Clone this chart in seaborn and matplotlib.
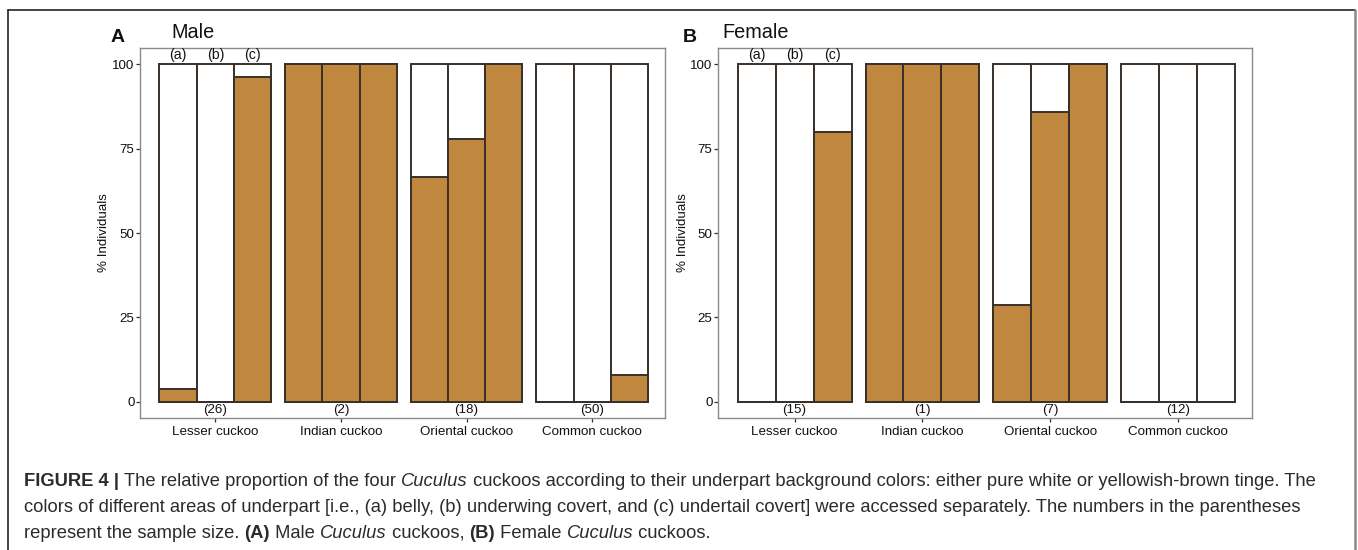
import matplotlib
matplotlib.use("Agg")
import matplotlib.pyplot as plt
import seaborn as sns
import pandas as pd
from matplotlib.lines import Line2D

sns.set_theme(style="white")
plt.rcParams['font.family'] = ['Liberation Sans', 'DejaVu Sans']

species = ["Lesser cuckoo", "Indian cuckoo", "Oriental cuckoo", "Common cuckoo"]
areas = ["(a)", "(b)", "(c)"]
male_n = ["(26)", "(2)", "(18)", "(50)"]
female_n = ["(15)", "(1)", "(7)", "(12)"]
# % individuals with yellowish-brown tinge, per species x area (a, b, c)
male_brown = [[3.85, 0, 96.15], [100, 100, 100], [66.7, 77.8, 100], [0, 0, 8.0]]
female_brown = [[0, 0, 80.0], [100, 100, 100], [28.6, 85.7, 100], [0, 0, 0]]
yticks = [0, 25, 50, 75, 100]

BROWN = "#BF883E"
EDGE = "#3a302a"
SPINE = "#8a8a8a"
FS = 9.6

W, H = 1358, 550
fig = plt.figure(figsize=(W / 100, H / 100), dpi=100)


def make_df(vals):
    rows = []
    for s, row in zip(species, vals):
        for a, v in zip(areas, row):
            rows.append({"species": s, "area": a, "brown": v, "total": 100.0})
    return pd.DataFrame(rows)


def panel(rect, vals, counts, title, letter, lx, tx, ylx):
    ax = fig.add_axes(rect)
    df = make_df(vals)
    sns.barplot(data=df, x="species", y="total", hue="area", order=species,
                hue_order=areas, palette=["white"] * 3, width=0.89, gap=0,
                saturation=1, edgecolor=EDGE, linewidth=1.4, legend=False, ax=ax)
    sns.barplot(data=df, x="species", y="brown", hue="area", order=species,
                hue_order=areas, palette=[BROWN] * 3, width=0.89, gap=0,
                saturation=1, edgecolor=EDGE, linewidth=1.4, legend=False, ax=ax)
    ax.set_xlim(-0.6, 3.58)
    ax.set_ylim(-4.8, 104.8)
    ax.set_yticks(yticks)
    ax.set_yticklabels([str(t) for t in yticks], fontsize=FS, color="#111111")
    ax.set_xticks(range(len(species)))
    ax.set_xticklabels(species, fontsize=FS, color="#111111")
    ax.set_xlabel("")
    ax.set_ylabel("% Individuals", fontsize=FS, color="#111111")
    ax.yaxis.set_label_coords(ylx, 0.5)
    ax.tick_params(axis="both", which="both", length=3, width=0.9, color="#333333",
                   direction="out", bottom=True, left=True, pad=1)
    ax.tick_params(axis="x", pad=3)
    for sp in ax.spines.values():
        sp.set_color(SPINE)
        sp.set_linewidth(1.0)
    bw = 0.89 / 3
    for i, a in enumerate(areas):
        ax.text(-0.89 / 2 + bw * (i + 0.5), 102.6, a, ha="center", va="center",
                fontsize=FS + 0.6, color="#111111")
    for i, c in enumerate(counts):
        ax.text(i, -2.3, c, ha="center", va="center", fontsize=FS, color="#111111")
    fig.text(lx / W, 1 - 38 / H, letter, fontsize=14, fontweight="bold",
             ha="left", va="center", color="#111111")
    fig.text(tx / W, 1 - 33 / H, title, fontsize=14.3, ha="left", va="center",
             color="#111111")
    return ax


panel([140 / W, 1 - 418 / H, 525 / W, 370 / H], male_brown, male_n, "Male", "A", 111, 171, -0.058)
panel([718 / W, 1 - 418 / H, 534 / W, 370 / H], female_brown, female_n, "Female", "B", 683, 722, -0.054)

# outer frame
fig.add_artist(Line2D([8 / W, 1355 / W], [1 - 10 / H, 1 - 10 / H], color="#222222", lw=1.2))
fig.add_artist(Line2D([8 / W, 8 / W], [0, 1 - 10 / H], color="#222222", lw=1.2))
fig.add_artist(Line2D([1355 / W, 1355 / W], [0, 1 - 10 / H], color="#888888", lw=1.8))

# caption with mixed styles
caption = [
    [("FIGURE 4 | ", "bold", "normal"), ("The relative proportion of the four ", "normal", "normal"),
     ("Cuculus", "normal", "italic"),
     (" cuckoos according to their underpart background colors: either pure white or yellowish-brown tinge. The", "normal", "normal")],
    [("colors of different areas of underpart [i.e., (a) belly, (b) underwing covert, and (c) undertail covert] were accessed separately. The numbers in the parentheses", "normal", "normal")],
    [("represent the sample size. ", "normal", "normal"), ("(A)", "bold", "normal"),
     (" Male ", "normal", "normal"), ("Cuculus", "normal", "italic"),
     (" cuckoos, ", "normal", "normal"), ("(B)", "bold", "normal"),
     (" Female ", "normal", "normal"), ("Cuculus", "normal", "italic"),
     (" cuckoos.", "normal", "normal")],
]
line_y = [481, 507, 533]
renderer = fig.canvas.get_renderer()
for segs, yy in zip(caption, line_y):
    x = 24
    for txt, wt, st in segs:
        t = fig.text(x / W, 1 - yy / H, txt, fontsize=13.2, fontweight=wt, fontstyle=st,
                     ha="left", va="center", color="#2b2b2b",
                     family=["Liberation Sans Narrow", "Liberation Sans"])
        bb = t.get_window_extent(renderer=renderer)
        x += bb.width

fig.savefig("out.png", dpi=100)
